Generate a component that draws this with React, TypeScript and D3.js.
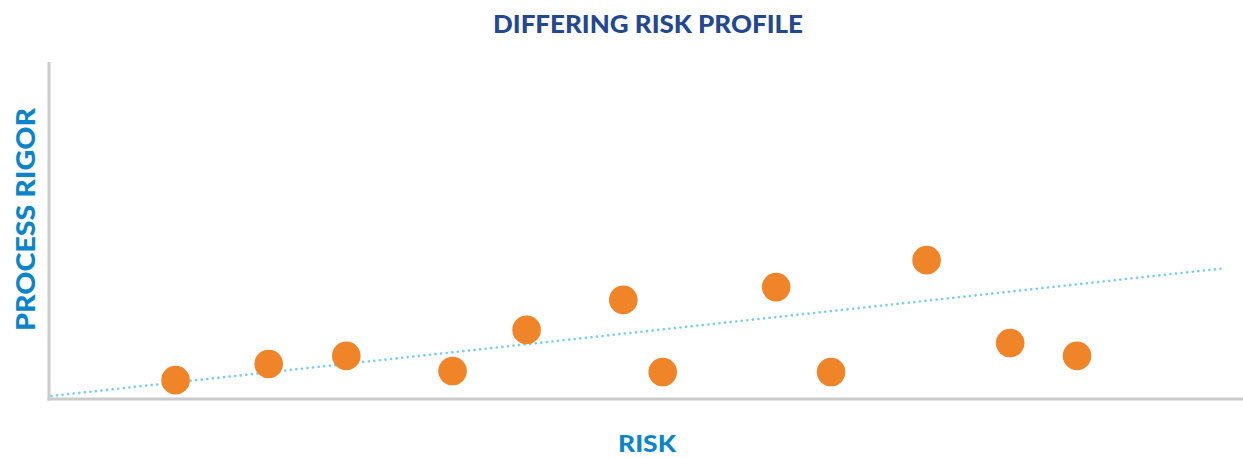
import React, { useEffect, useRef } from 'react';
import * as d3 from 'd3';

// risk (x) and process rigor (y) for each project, 0-100 scale
const riskValues = [10.6, 18.4, 24.9, 33.8, 40.0, 48.1, 51.4, 60.9, 65.5, 73.5, 80.5, 86.1];
const rigorValues = [5.6, 10.4, 12.8, 8.3, 20.5, 29.4, 8.0, 33.2, 8.0, 41.2, 16.6, 12.8];
// trend line end points
const trendRisk = [0.2, 98.5];
const trendRigor = [0.9, 38.8];

const title = 'DIFFERING RISK PROFILE';
const xLabel = 'RISK';
const yLabel = 'PROCESS RIGOR';

const W = 1243;
const H = 458;

export default function App() {
  const ref = useRef<SVGSVGElement>(null);

  useEffect(() => {
    const svg = d3.select(ref.current);
    svg.selectAll('*').remove();

    const x = d3.scaleLinear().domain([0, 100]).range([49, 1243]);
    const y = d3.scaleLinear().domain([0, 100]).range([399, 62]);

    const font = 'Lato, "Open Sans", sans-serif';

    svg.append('text')
      .attr('x', 648).attr('y', 32.5)
      .attr('text-anchor', 'middle')
      .attr('font-family', font).attr('font-weight', 900)
      .attr('font-size', 25)
      .attr('textLength', 310).attr('lengthAdjust', 'spacingAndGlyphs')
      .attr('fill', '#23488f')
      .text(title);

    // axes
    svg.append('line')
      .attr('x1', x(0)).attr('x2', x(0))
      .attr('y1', y(100)).attr('y2', y(0) + 1.5)
      .attr('stroke', '#cbcbcb').attr('stroke-width', 3);
    svg.append('line')
      .attr('x1', x(0) - 1.5).attr('x2', x(100))
      .attr('y1', y(0)).attr('y2', y(0))
      .attr('stroke', '#cbcbcb').attr('stroke-width', 3);

    // dotted trend
    const trend = trendRisk.map((r, i) => [r, trendRigor[i]] as [number, number]);
    svg.append('path')
      .attr('d', d3.line<[number, number]>().x(d => x(d[0])).y(d => y(d[1]))(trend))
      .attr('fill', 'none')
      .attr('stroke', '#7ccbf0')
      .attr('stroke-width', 2.6)
      .attr('stroke-linecap', 'round')
      .attr('stroke-dasharray', '0.1 5.5');

    svg.selectAll('circle.pt')
      .data(riskValues.map((r, i) => [r, rigorValues[i]]))
      .enter()
      .append('circle')
      .attr('class', 'pt')
      .attr('cx', d => x(d[0]))
      .attr('cy', d => y(d[1]))
      .attr('r', 14.3)
      .attr('fill', '#ef8429');

    svg.append('text')
      .attr('x', 647).attr('y', 451.5)
      .attr('text-anchor', 'middle')
      .attr('font-family', font).attr('font-weight', 900)
      .attr('font-size', 22)
      .attr('textLength', 58).attr('lengthAdjust', 'spacingAndGlyphs')
      .attr('fill', '#0b85c8')
      .text(xLabel);

    svg.append('text')
      .attr('transform', 'translate(35,219.5) rotate(-90)')
      .attr('text-anchor', 'middle')
      .attr('font-family', font).attr('font-weight', 900)
      .attr('font-size', 27)
      .attr('textLength', 223).attr('lengthAdjust', 'spacingAndGlyphs')
      .attr('fill', '#0b85c8')
      .text(yLabel);
  }, []);

  return (
    <div style={{ position: 'absolute', left: 0, top: 0 }}>
      <svg ref={ref} width={W} height={H} style={{ display: 'block', background: '#fff' }} />
    </div>
  );
}
